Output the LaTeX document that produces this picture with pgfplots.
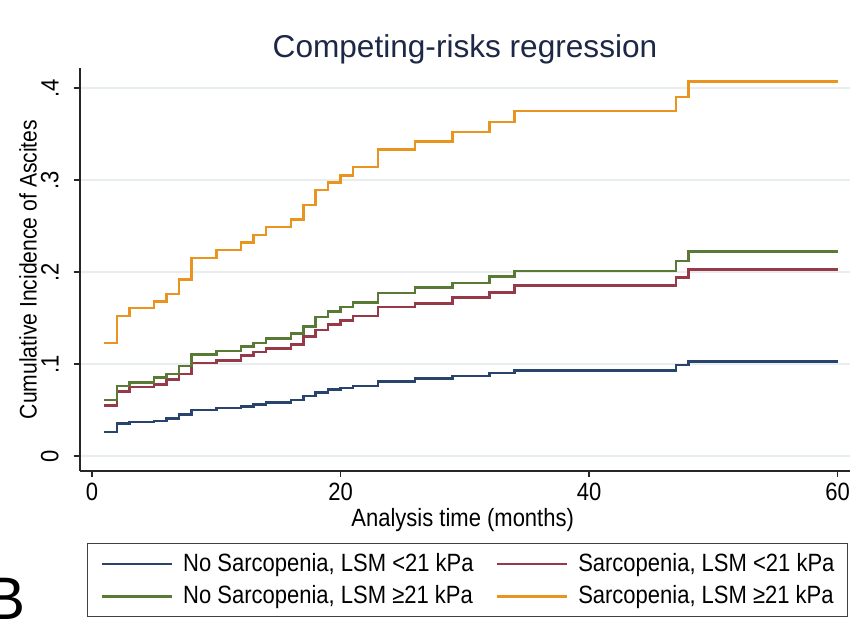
\documentclass[border=0pt]{standalone}
\usepackage{pgfplots}
\pgfplotsset{compat=1.18}
\usepackage{fontspec}
\setmainfont{Liberation Sans}
% slightly condensed face for ticks, labels and legend
\newfontfamily\narrowsans[FakeStretch=0.88]{Liberation Sans}

\definecolor{sNavy}{RGB}{40,68,108}
\definecolor{sMaroon}{RGB}{150,58,74}
\definecolor{sGreen}{RGB}{88,122,52}
\definecolor{sOrange}{RGB}{234,148,32}
\definecolor{sTitle}{RGB}{28,40,70}
\definecolor{sGrid}{RGB}{232,238,240}

\begin{document}
\begin{tikzpicture}
\path[use as bounding box] (0,0) rectangle (433.5pt,317.5pt);
\begin{axis}[
  at={(40pt,82pt)}, anchor=south west,
  scale only axis, width=385pt, height=201.5pt,
  xmin=-0.97, xmax=61, ymin=-0.0163, ymax=0.4217,
  axis x line=bottom, axis y line=left,
  axis line style={-, black!85, line width=0.6pt},
  xtick={0,20,40,60},
  ytick={0,0.1,0.2,0.3,0.4}, yticklabels={0,.1,.2,.3,.4},
  tick align=outside, major tick length=3pt,
  tick style={black!85, line width=0.6pt},
  /pgf/number format/assume math mode=true,
  tick label style={font=\narrowsans\fontsize{12.5}{14}\selectfont},
  yticklabel style={rotate=90, anchor=south, inner sep=0pt},
  xticklabel style={anchor=north, inner sep=0pt},
  yticklabel shift=7.5pt, xticklabel shift=3pt,
  ymajorgrids, grid style={sGrid, line width=0.6pt},
  xlabel={Analysis time (months)},
  xlabel style={font=\narrowsans\fontsize{12.5}{14}\selectfont, anchor=base,
    at={(axis description cs:0.497,0)}, yshift=-28pt},
  ylabel={Cumulative Incidence of Ascites},
  ylabel style={font=\narrowsans\fontsize{12}{14}\selectfont,
    at={(axis description cs:-0.0675,0.5)}, anchor=center},
  legend columns=2,
  legend cell align=left,
  legend image code/.code={\draw[#1] (0pt,0pt) -- (35pt,0pt);},
  legend style={at={(axis description cs:0.0091,-0.1787)}, anchor=north west,
    draw=black!75, line width=0.6pt,
    font=\narrowsans\fontsize{12.5}{14}\selectfont,
    inner xsep=6.5pt, inner ysep=3.5pt, row sep=2.5pt,
    nodes={inner xsep=0pt, inner ysep=1.5pt},
    /tikz/every even column/.append style={column sep=11pt},
    /tikz/every odd column/.append style={column sep=5pt}},
  every axis plot/.append style={const plot, line width=1.3pt, line join=miter},
]
% No sarcopenia, LSM < 21 kPa
\addplot[sNavy] coordinates {
 (1,.026) (2,.035) (3,.037) (5,.038) (6,.041) (7,.045) (8,.050) (10,.052)
 (12,.054) (13,.056) (14,.058) (16,.061) (17,.065) (18,.069) (19,.072)
 (20,.074) (21,.076) (23,.081) (26,.084) (29,.087) (32,.090) (34,.093)
 (47,.099) (48,.103) (60,.103)};
\addlegendentry{No Sarcopenia, LSM <21 kPa}
% Sarcopenia, LSM < 21 kPa
\addplot[sMaroon] coordinates {
 (1,.055) (2,.070) (3,.075) (5,.078) (6,.083) (7,.089) (8,.101) (10,.104)
 (12,.109) (13,.113) (14,.117) (16,.121) (17,.130) (18,.137) (19,.143)
 (20,.147) (21,.152) (23,.162) (26,.166) (29,.172) (32,.178) (34,.185)
 (47,.194) (48,.203) (60,.203)};
\addlegendentry{Sarcopenia, LSM <21 kPa}
% No sarcopenia, LSM >= 21 kPa
\addplot[sGreen] coordinates {
 (1,.061) (2,.076) (3,.080) (5,.085) (6,.089) (7,.098) (8,.110) (10,.114)
 (12,.119) (13,.123) (14,.128) (16,.133) (17,.141) (18,.151) (19,.157)
 (20,.162) (21,.167) (23,.177) (26,.183) (29,.188) (32,.195) (34,.201)
 (47,.212) (48,.222) (60,.222)};
\addlegendentry{No Sarcopenia, LSM ≥21 kPa}
% Sarcopenia, LSM >= 21 kPa
\addplot[sOrange] coordinates {
 (1,.123) (2,.152) (3,.161) (5,.168) (6,.176) (7,.192) (8,.215) (10,.224)
 (12,.232) (13,.240) (14,.249) (16,.257) (17,.273) (18,.289) (19,.297)
 (20,.305) (21,.314) (23,.333) (26,.342) (29,.352) (32,.363) (34,.375)
 (47,.390) (48,.407) (60,.407)};
\addlegendentry{Sarcopenia, LSM ≥21 kPa}
\end{axis}
\node[font=\fontsize{15.8}{19}\selectfont, text=sTitle, anchor=base]
  at (232.5pt,288.5pt) {Competing-risks regression};
\node[font=\fontsize{30}{30}\selectfont, anchor=base east, inner sep=0pt]
  at (13pt,7.5pt) {B};
\end{tikzpicture}
\end{document}
